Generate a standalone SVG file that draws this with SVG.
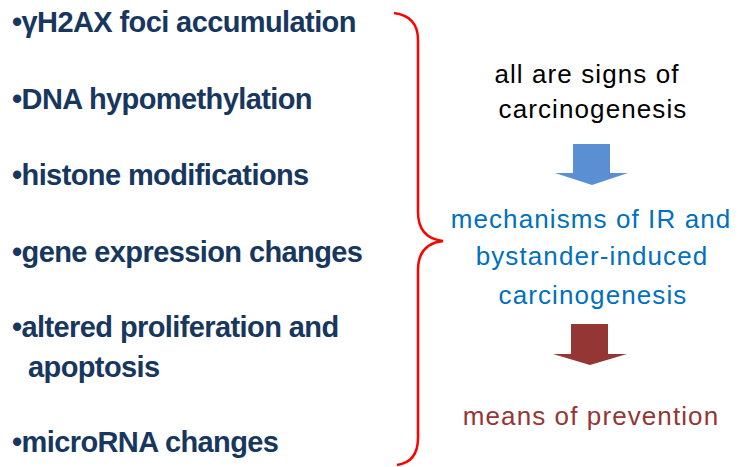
<svg xmlns="http://www.w3.org/2000/svg" width="739" height="467" viewBox="0 0 739 467">
<style>
.l{font-family:"Liberation Sans",Arial,sans-serif;font-weight:bold;font-size:29px;fill:#17375E;letter-spacing:-0.6px}
.r{font-family:"Liberation Sans",Arial,sans-serif;font-size:26px;text-anchor:middle;letter-spacing:1.1px}
</style>
<rect width="739" height="467" fill="#fff"/>
<g id="signs">
<text class="l" x="12" y="32">•γH2AX foci accumulation</text>
<text class="l" x="12" y="109">•DNA hypomethylation</text>
<text class="l" x="12" y="185">•histone modifications</text>
<text class="l" x="12" y="262">•gene expression changes</text>
<text class="l" x="12" y="337">•altered proliferation and</text>
<text class="l" x="28" y="377">apoptosis</text>
<text class="l" x="12" y="452">•microRNA changes</text>
</g>
<g id="brace">
<path d="M394,13 Q418,16 418,40 L418,212 Q418,238 443,241 Q418,244 418,270 L418,438 Q418,462 397,465" fill="none" stroke="#FF0000" stroke-width="2.5"/>
</g>
<g id="carcinogenesis">
<text class="r" x="587" y="83" fill="#000">all are signs of</text>
<text class="r" x="593" y="118" fill="#000">carcinogenesis</text>
</g>
<g id="mechanisms">
<text class="r" x="591" y="228" fill="#0070C0">mechanisms of IR and</text>
<text class="r" x="592" y="265" fill="#0070C0">bystander-induced</text>
<text class="r" x="593" y="304" fill="#0070C0">carcinogenesis</text>
</g>
<g id="prevention">
<text class="r" x="591" y="425" fill="#943634">means of prevention</text>
</g>
<g id="connectors">
<path d="M573,144 H610 V173 H628 L592,185 L555,173 H573 Z" fill="#5B8FD4"/>
<path d="M571,324 H608 V354 H627 L590,365 L553,354 H571 Z" fill="#943634"/>
</g>
</svg>
